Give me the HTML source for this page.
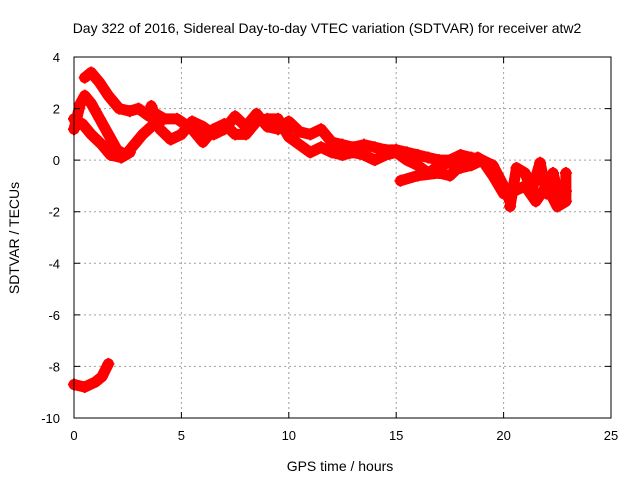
<!DOCTYPE html>
<html><head><meta charset="utf-8"><style>
body{margin:0;background:#fff}
svg{display:block;font-family:"Liberation Sans",sans-serif;font-size:13px}
</style></head><body>
<svg id="chart" width="640" height="480" viewBox="0 0 640 480">
<text x="327" y="33" text-anchor="middle" font-size="14">Day 322 of 2016, Sidereal Day-to-day VTEC variation (SDTVAR) for receiver atw2</text>
<text transform="translate(19,238) rotate(-90)" text-anchor="middle" font-size="14">SDTVAR / TECUs</text>
<text x="340" y="471" text-anchor="middle" font-size="14">GPS time / hours</text>
<g id="grid"></g><g id="marks"></g><g id="axes"></g>
</svg>
<script>
const xTicks=[0,5,10,15,20,25];
const yTicks=[4,2,0,-2,-4,-6,-8,-10];
const seriesA=[[0.5,3.2],[0.8,3.4],[1.2,3.0],[1.6,2.5],[2.1,2.0],[2.6,1.9],[3.0,2.0],[3.5,1.7]];
const seriesB=[[0,1.2],[0.3,2.2],[0.5,2.5],[0.8,2.2],[1.2,1.6],[1.6,1.0],[2.0,0.4],[2.4,0.2],[2.8,0.6],[3.2,1.0],[3.6,1.3],[4.0,1.5]];
const seriesC=[[0,1.6],[0.4,1.4],[0.8,1.0],[1.3,0.6],[1.7,0.2],[2.2,0.1],[2.6,0.3]];
const band1=[[3.6,2.1],[4,1.2],[4.5,0.8],[5,1.0],[5.5,1.5],[6,1.3],[6.5,1.0],[7,1.2],[7.5,1.7],[8,1.3],[8.5,1.8],[9,1.3],[9.5,1.2],[10,1.5],[10.5,1.1],[11,1.0],[11.5,1.2],[12,0.7],[12.5,0.6],[13,0.5],[13.5,0.6],[14,0.5],[14.5,0.4],[15,0.4],[15.5,0.3],[16,0.2],[16.5,0.1],[17,0.0],[17.5,0.0],[18,0.2],[18.5,0.1],[19,0.0],[19.5,-0.2],[20,-1.0],[20.3,-1.6]];
const band2=[[3.8,1.8],[4.2,1.6],[4.8,1.6],[5.5,1.2],[6,0.7],[6.5,1.2],[7,1.4],[7.5,1.0],[8,1.0],[8.5,1.5],[9,1.6],[9.5,1.6],[10,0.9],[10.5,0.6],[11,0.3],[11.5,0.5],[12,0.3],[12.5,0.2],[13,0.3],[13.5,0.2],[14,0.0],[14.5,0.2],[15,0.3],[15.5,0.0],[16,-0.2],[16.5,-0.5],[17,-0.2],[17.5,-0.1],[18,-0.3],[18.5,-0.2],[19,0.0],[19.5,-0.6],[20,-1.3]];
const band3=[[15.2,-0.8],[16,-0.6],[17,-0.5],[17.5,-0.6],[18,-0.2],[18.8,0.1]];
const tail1=[[20.3,-1.8],[20.6,-0.3],[21,-0.5],[21.3,-1.2],[21.7,-0.1],[22,-1.3],[22.3,-0.5],[22.6,-1.5],[22.9,-1.2]];
const tail2=[[20.5,-1.2],[21,-1.0],[21.5,-1.6],[22,-1.0],[22.5,-1.8],[22.9,-1.6],[22.9,-0.5]];
const bottom=[[0,-8.7],[0.5,-8.8],[1.0,-8.6],[1.3,-8.4],[1.6,-7.9]];
const allSeries=[seriesA,seriesB,seriesC,band1,band2,band3,tail1,tail2,bottom];
const L=74,R=611,T=57,B=418;
const X=t=>L+(t-0)/25*(R-L);
const Y=v=>T+(4-v)/14*(B-T);
const NS="http://www.w3.org/2000/svg";
function mk(tag,attrs,parent){const e=document.createElementNS(NS,tag);for(const k in attrs)e.setAttribute(k,attrs[k]);parent.appendChild(e);return e;}
const grid=document.getElementById('grid'),marks=document.getElementById('marks'),axes=document.getElementById('axes');
xTicks.forEach(t=>{
  if(t>0&&t<25){const g=mk('line',{x1:X(t),x2:X(t),y1:T,y2:B,stroke:'#a0a0a0','stroke-dasharray':'2,3'},grid);
  
  }
  const tk=mk('path',{d:`M${X(t)},${B}v-6M${X(t)},${T}v6`,stroke:'#000'},axes);
  
  
  const lb=mk('text',{x:X(t),y:B+22,'text-anchor':'middle'},axes);lb.textContent=t;
  
  
});
yTicks.forEach(v=>{
  if(v>-10&&v<4){const g=mk('line',{x1:L,x2:R,y1:Y(v),y2:Y(v),stroke:'#a0a0a0','stroke-dasharray':'2,3'},grid);
  
  }
  const tk=mk('path',{d:`M${L},${Y(v)}h6M${R},${Y(v)}h-6`,stroke:'#000'},axes);
  
  
  const lb=mk('text',{x:L-14,y:Y(v)+5,'text-anchor':'end'},axes);lb.textContent=v;
  
  
});
const frame=mk('rect',{x:L,y:T,width:R-L,height:B-T,fill:'none',stroke:'#000'},axes);


allSeries.forEach(s=>{
  const pl=mk('polyline',{points:s.map(p=>X(p[0])+','+Y(p[1])).join(' '),fill:'none',stroke:'#f00','stroke-width':11,'stroke-linejoin':'round','stroke-linecap':'round'},marks);
  
  
  s.forEach(p=>{
    const m=mk('path',{d:`M${X(p[0])-6},${Y(p[1])}h12M${X(p[0])},${Y(p[1])-6}v12`,stroke:'#f00','stroke-width':2},marks);
    
    
  });
});
</script>
</body></html>
